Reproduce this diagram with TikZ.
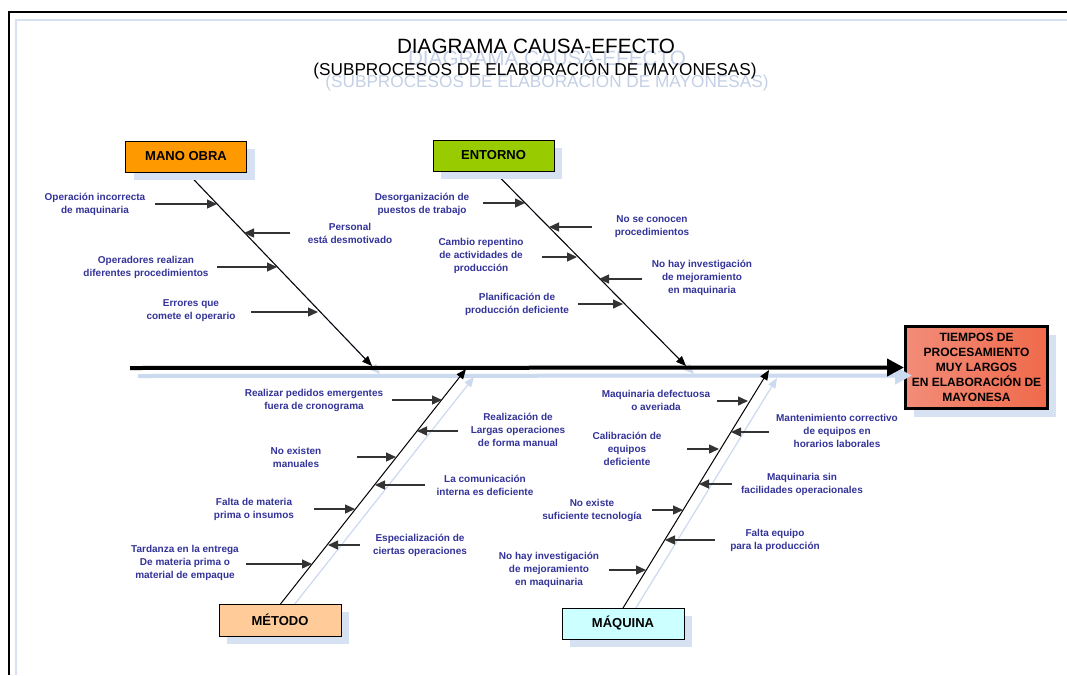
\documentclass[tikz,border=0pt]{standalone}
\usepackage{fontspec}
\setmainfont{Liberation Sans}
\usetikzlibrary{arrows.meta,shadows}

\definecolor{shadowblue}{RGB}{214,226,242}
\definecolor{lineshadowblue}{RGB}{204,218,240}
\definecolor{ghostblue}{RGB}{196,208,230}
\definecolor{causeblue}{RGB}{51,51,153}
\definecolor{manoorange}{RGB}{255,153,0}
\definecolor{entornogreen}{RGB}{153,204,0}
\definecolor{metodopeach}{RGB}{255,204,153}
\definecolor{maquinacyan}{RGB}{204,255,255}
\definecolor{effectlight}{RGB}{242,140,120}
\definecolor{effectdark}{RGB}{240,106,76}

\tikzset{
  boxshadow/.style={drop shadow={shadow xshift=8pt, shadow yshift=-8pt, fill=shadowblue, opacity=1}},
  catbox/.style={draw=black, line width=1pt, boxshadow, minimum width=121pt,
    minimum height=31pt, inner sep=0pt, font=\bfseries\fontsize{13}{15}\selectfont},
  effectbox/.style={draw=black, line width=3pt, boxshadow, left color=effectlight,
    right color=effectdark, minimum width=142pt, minimum height=82pt, inner sep=0pt,
    align=center, font=\bfseries\fontsize{12}{15}\selectfont},
  bonetip/.style={-{Triangle[length=10pt,width=8pt]}},
  spinetip/.style={-{Triangle[length=17pt,width=17pt]}},
  bone/.style={draw=black, line width=1pt, bonetip},
  spine/.style={draw=black, line width=4pt, spinetip},
  causetxt/.style={text=causeblue, font=\bfseries\fontsize{10}{13}\selectfont,
    align=center, inner sep=0pt},
  causearrow/.style={draw=black!80, line width=1.3pt, -{Triangle[length=10pt,width=9pt]}},
  titletxt/.style={font=\fontsize{20.7}{24}\selectfont, anchor=base, inner sep=0pt},
  subtitletxt/.style={font=\fontsize{17.2}{20}\selectfont, anchor=base, inner sep=0pt},
}

% cause label, its start and end points, and the arrow between them
% #1 name, #2/#3 label centre, #4 arrow start x, #5 arrow end x, #6 arrow y, #7 text
\newcommand\causeitem[7]{%
  \node[causetxt] (#1) at (#2,#3) {#7};
  \coordinate (#1-s) at (#4,#6);
  \coordinate (#1-e) at (#5,#6);
  \draw[causearrow] (#1-s) -- (#1-e);
}

\begin{document}
\begin{tikzpicture}[x=1pt,y=-1pt]
\useasboundingbox (0,0) rectangle (1067,675);
\clip (0,0) rectangle (1067,675);
\fill[white] (0,0) rectangle (1067,675);

% page frame with its offset shadow
\draw[shadowblue, line width=2pt] (1067,20) -- (16,20) -- (16,675);
\draw[black, line width=2pt] (1067,12) -- (9,12) -- (9,675);

% title with its pale offset copy
\node[titletxt, text=ghostblue] (titleghost) at (547,65) {DIAGRAMA CAUSA-EFECTO};
\node[subtitletxt, text=ghostblue] (subghost) at (547,87) {(SUBPROCESOS DE ELABORACIÓN DE MAYONESAS)};
\node[titletxt] (title) at (536,53) {DIAGRAMA CAUSA-EFECTO};
\node[subtitletxt] (subtitle) at (535,75) {(SUBPROCESOS DE ELABORACIÓN DE MAYONESAS)};

% effect
\node[effectbox] (effect) at (976.5,367.5) {TIEMPOS DE\\PROCESAMIENTO\\MUY LARGOS\\EN ELABORACIÓN DE\\MAYONESA};

% spine and bone end points
\coordinate (spine0) at (130,368);
\coordinate (manoend) at (372,366);
\coordinate (entornoend) at (686,366);
\coordinate (metodoend) at (466,369);
\coordinate (maquinaend) at (769,370);
\coordinate (manotop) at (186.5,172);
\coordinate (entornotop) at (493.5,171);
\coordinate (metodotop) at (280.5,604);
\coordinate (maquinatop) at (623,608);

% pale shadows of spine and bones
\begin{scope}[transform canvas={shift={(8pt,-8pt)}}]
  \draw[lineshadowblue, line width=4pt, spinetip] (spine0) -- (effect.west);
  \draw[lineshadowblue, line width=1.2pt, bonetip] (manotop) -- (manoend);
  \draw[lineshadowblue, line width=1.2pt, bonetip] (entornotop) -- (entornoend);
  \draw[lineshadowblue, line width=1.2pt, bonetip] (metodotop) -- (metodoend);
  \draw[lineshadowblue, line width=1.2pt, bonetip] (maquinatop) -- (maquinaend);
\end{scope}

\draw[spine] (spine0) -- (effect.west);
\draw[bone] (manotop) -- (manoend);
\draw[bone] (entornotop) -- (entornoend);
\draw[bone] (metodotop) -- (metodoend);
\draw[bone] (maquinatop) -- (maquinaend);

% category boxes
\node[catbox, fill=manoorange] (mano) at (186,156.5) {MANO OBRA};
\node[catbox, fill=entornogreen] (entorno) at (493.5,155.5) {ENTORNO};
\node[catbox, fill=metodopeach, minimum height=32pt, minimum width=122pt] (metodo) at (280,620) {MÉTODO};
\node[catbox, fill=maquinacyan, minimum width=122pt] (maquina) at (623,623.5) {MÁQUINA};

% causes: mano de obra
\causeitem{c1}{95}{204}{155}{217}{204}{Operación incorrecta\\de maquinaria}
\causeitem{c2}{350}{233}{290}{244}{233}{Personal\\está desmotivado}
\causeitem{c3}{146}{267}{217}{277}{267}{Operadores realizan\\diferentes procedimientos}
\causeitem{c4}{191}{311}{251}{318}{312}{Errores que\\comete el operario}

% causes: entorno
\causeitem{c5}{422}{204}{483}{525}{203}{Desorganización de\\puestos de trabajo}
\causeitem{c6}{652}{227}{592}{549}{227}{No se conocen\\procedimientos}
\causeitem{c7}{481}{256}{542}{577}{257}{Cambio repentino\\de actividades de\\producción}
\causeitem{c8}{702}{278}{642}{599}{279}{No hay investigación\\de mejoramiento\\en maquinaria}
\causeitem{c9}{517}{304}{578}{623}{304}{Planificación de\\producción deficiente}

% causes: metodo
\causeitem{c10}{314}{400}{392}{442}{400}{Realizar pedidos emergentes\\fuera de cronograma}
\causeitem{c11}{518}{430}{458}{417}{431}{Realización de\\Largas operaciones\\de forma manual}
\causeitem{c12}{296}{457}{357}{396}{457}{No existen\\manuales}
\causeitem{c13}{485}{485}{425}{375}{485}{La comunicación\\interna es deficiente}
\causeitem{c14}{254}{509}{314}{355}{509}{Falta de materia\\prima o insumos}
\causeitem{c15}{420}{545}{360}{328}{545}{Especialización de\\ciertas operaciones}
\causeitem{c16}{185}{563}{246}{312}{564}{Tardanza en la entrega\\De materia prima o\\material de empaque}

% causes: maquina
\causeitem{c17}{656}{400}{717}{748}{401}{Maquinaria defectuosa\\o averiada}
\causeitem{c18}{837}{431}{769}{731}{432}{Mantenimiento correctivo\\de equipos en\\horarios laborales}
\causeitem{c19}{627}{449}{687}{719}{449}{Calibración de\\equipos\\deficiente}
\causeitem{c20}{802}{484}{732}{699}{484}{Maquinaria sin\\facilidades operacionales}
\causeitem{c21}{592}{510}{652}{683}{510}{No existe\\suficiente tecnología}
\causeitem{c22}{775}{540}{715}{665}{540}{Falta equipo\\para la producción}
\causeitem{c23}{549}{570}{609}{646}{570}{No hay investigación\\de mejoramiento\\en maquinaria}
\end{tikzpicture}
\end{document}
